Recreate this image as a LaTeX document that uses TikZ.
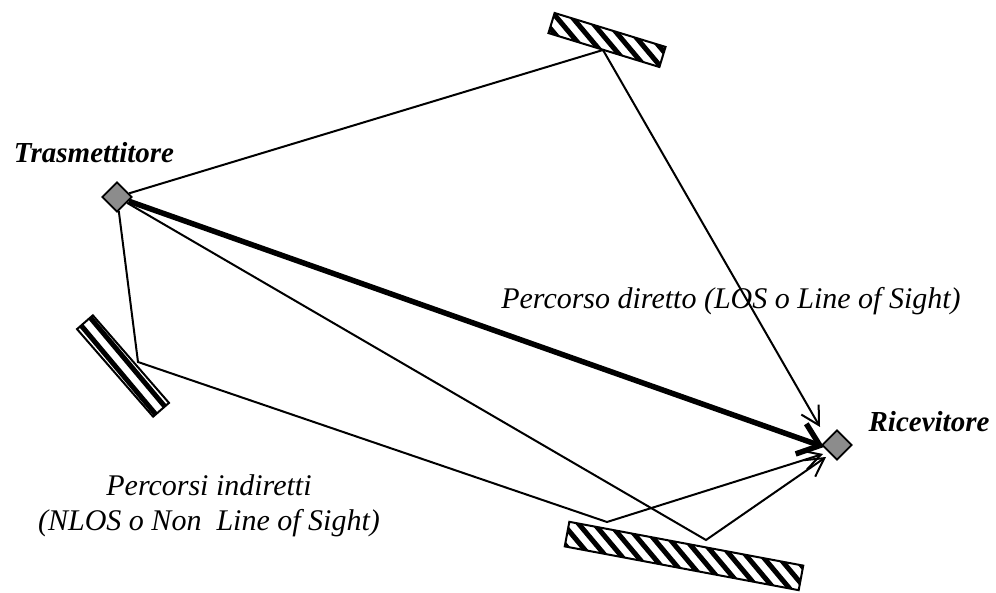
\documentclass[tikz,border=0pt]{standalone}
\usepackage{fontspec}
\setmainfont{Liberation Serif}
\usetikzlibrary{arrows.meta,shapes.geometric}
\tikzset{
  station/.style={shape=diamond, draw=black, line width=1.8pt, fill=black!45,
    minimum width=30pt, minimum height=30pt, inner sep=0pt, aspect=1},
  ray/.style={line width=2pt, -{Straight Barb[length=18pt,width=20pt]}},
  direct/.style={line width=5.5pt, -{Straight Barb[length=20pt,width=32pt]}},
  reflector/.style={draw=black, line width=2pt},
  stripe/.style={line width=5pt, black},
  lbl/.style={font=\fontsize{30}{35}\selectfont\itshape, inner sep=0pt},
  blbl/.style={font=\fontsize{29}{35}\selectfont\bfseries\itshape, inner sep=0pt}
}
% reflector: #1 center, #2 length, #3 width, #4 rotation, #5 stripe phase
\newcommand{\mirrorplate}[5]{%
  \begin{scope}[shift={#1}, rotate=#4]
    \begin{scope}
      \clip (-#2/2,-#3/2) rectangle (#2/2,#3/2);
      \begin{scope}[rotate=-50-#4]
        \foreach \k in {-16,...,16} {\draw[stripe] (-200,\k*12+#5) -- (200,\k*12+#5);}
      \end{scope}
    \end{scope}
    \draw[reflector] (-#2/2,-#3/2) rectangle (#2/2,#3/2);
  \end{scope}}
\begin{document}
\begin{tikzpicture}[x=1pt,y=1pt]
\useasboundingbox (0,0) rectangle (996,592);
% reflectors
\mirrorplate{(607,552)}{116}{21}{-17}{0}
\mirrorplate{(123,226)}{116}{21}{-49}{6}
\mirrorplate{(684,36)}{238}{25}{-10.6}{0}
% stations
\node[station] (tx) at (117,395) {};
\node[station] (rx) at (837,147) {};
% reflection points and arrow tips
\coordinate (t1) at (603,542);
\coordinate (l1) at (138,230);
\coordinate (b1) at (607,70);
\coordinate (b2) at (706,52);
\coordinate (ra) at (820,165);
\coordinate (rb) at (824,145);
\coordinate (rc1) at (823,138);
\coordinate (rc2) at (826,135);
% paths
\draw[ray] (tx) -- (t1) -- (ra);
\draw[ray] (tx) -- (l1) -- (b1) -- (rc1);
\draw[ray] (tx) -- (b2) -- (rc2);
\draw[direct] (tx) -- (rb);
% labels
\node[blbl, anchor=base] (txl) at (94,429) {Trasmettitore};
\node[blbl, anchor=base] (rxl) at (929,160) {Ricevitore};
\node[lbl, anchor=base] (losl) at (731,283) {Percorso diretto (LOS o Line of Sight)};
\node[lbl, align=center, anchor=center] (nlosl) at (209,86) {Percorsi indiretti\\(NLOS o Non\ \ Line of Sight)};
\end{tikzpicture}
\end{document}
